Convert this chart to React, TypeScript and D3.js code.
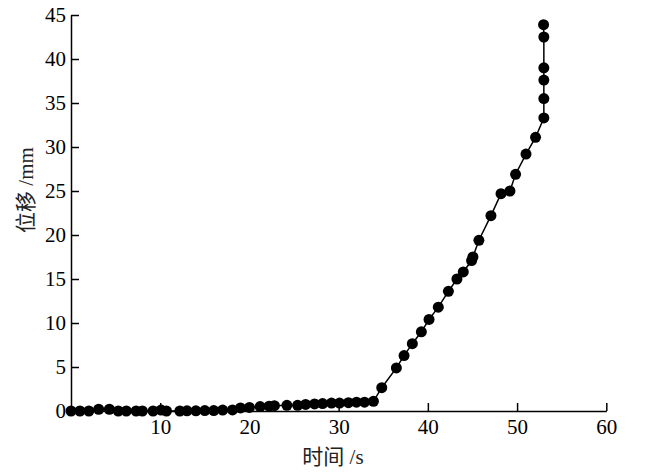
import React, { useEffect, useRef } from "react";
import * as d3 from "d3";

const timeValues = [
  0, 1, 2, 3.1, 4.3, 5.3, 6.2, 7.3, 8, 9.2, 10.1, 10.7, 12.2, 13, 14, 15, 16, 17, 18.1, 19, 20, 21.2, 22.2, 22.8,
  24.2, 25.4, 26.3, 27.3, 28.2, 29.2, 30.1, 31.1, 32, 32.9, 33.9, 34.83, 36.47, 37.33, 38.26, 39.27, 40.13,
  41.17, 42.3, 43.26, 43.97, 44.9, 45.05, 45.72, 47.07, 48.2, 49.2, 49.83, 51.0, 52.07, 53.0, 53.0, 53.0,
  53.0, 53.0, 52.97,
];
const displacementValues = [
  0, 0, 0, 0.2, 0.2, 0, 0, 0, 0, 0, 0.1, 0, 0, 0.02, 0.02, 0.05, 0.05, 0.1, 0.12, 0.35, 0.4, 0.5, 0.55, 0.6,
  0.65, 0.65, 0.75, 0.8, 0.85, 0.9, 0.9, 0.95, 1.0, 1.0, 1.1, 2.65, 4.9, 6.3, 7.65, 9.0, 10.4, 11.8, 13.6,
  15.0, 15.8, 17.1, 17.5, 19.4, 22.2, 24.7, 25.0, 26.9, 29.2, 31.1, 33.3, 35.5, 37.6, 39.0, 42.5, 43.9,
];
const xTickValues = [10, 20, 30, 40, 50, 60];
const yTickValues = [0, 5, 10, 15, 20, 25, 30, 35, 40, 45];
const xLabel = "时间 /s";
const yLabel = "位移 /mm";

const W = 647;
const H = 473;
const FONT = "Liberation Serif, Noto Sans CJK SC";

export default function App() {
  const ref = useRef<SVGSVGElement | null>(null);

  useEffect(() => {
    const svg = d3.select(ref.current);
    svg.selectAll("*").remove();

    const x = d3.scaleLinear().domain([0, 60]).range([71, 606.3]);
    const y = d3.scaleLinear().domain([0, 45]).range([411, 15]);

    const data = timeValues.map((t, i) => ({ t, v: displacementValues[i] }));

    const gx = svg
      .append("g")
      .attr("transform", `translate(0,${y(0)})`)
      .call(
        d3
          .axisBottom(x)
          .tickValues(xTickValues)
          .tickSizeInner(-8)
          .tickSizeOuter(0)
          .tickPadding(8)
          .tickFormat(d3.format("d"))
      );
    gx.attr("font-family", null).attr("font-size", null);
    gx.select(".domain").attr("stroke", "#000").attr("stroke-width", 1.5);
    gx.selectAll(".tick line").attr("stroke", "#000").attr("stroke-width", 1.5);
    gx.selectAll(".tick text")
      .style("font-family", FONT)
      .style("font-size", "21px")
      .attr("fill", "#000");

    const gy = svg
      .append("g")
      .attr("transform", `translate(${x(0)},0)`)
      .call(
        d3
          .axisLeft(y)
          .tickValues(yTickValues)
          .tickSizeInner(-8)
          .tickSizeOuter(0)
          .tickPadding(5)
          .tickFormat(d3.format("d"))
      );
    gy.attr("font-family", null).attr("font-size", null);
    gy.select(".domain").attr("stroke", "#000").attr("stroke-width", 1.5);
    gy.selectAll(".tick line").attr("stroke", "#000").attr("stroke-width", 1.5);
    gy.selectAll(".tick text")
      .style("font-family", FONT)
      .style("font-size", "21px")
      .attr("fill", "#000");

    const line = d3
      .line<{ t: number; v: number }>()
      .x((d) => x(d.t))
      .y((d) => y(d.v));
    svg
      .append("path")
      .datum(data)
      .attr("d", line)
      .attr("fill", "none")
      .attr("stroke", "#000")
      .attr("stroke-width", 1.5);

    svg
      .append("g")
      .selectAll("circle")
      .data(data)
      .join("circle")
      .attr("cx", (d) => x(d.t))
      .attr("cy", (d) => y(d.v))
      .attr("r", 5.5)
      .attr("fill", "#000");

    svg
      .append("text")
      .attr("x", 333)
      .attr("y", 464)
      .attr("text-anchor", "middle")
      .style("font-family", FONT)
      .style("font-size", "21px")
      .attr("fill", "#222")
      .text(xLabel);

    svg
      .append("text")
      .attr("transform", `translate(33,190) rotate(-90)`)
      .attr("text-anchor", "middle")
      .style("font-family", FONT)
      .style("font-size", "21px")
      .attr("fill", "#222")
      .text(yLabel);
  }, []);

  return (
    <svg
      ref={ref}
      width={W}
      height={H}
      style={{ position: "absolute", left: 0, top: 0, background: "#fff" }}
    />
  );
}
